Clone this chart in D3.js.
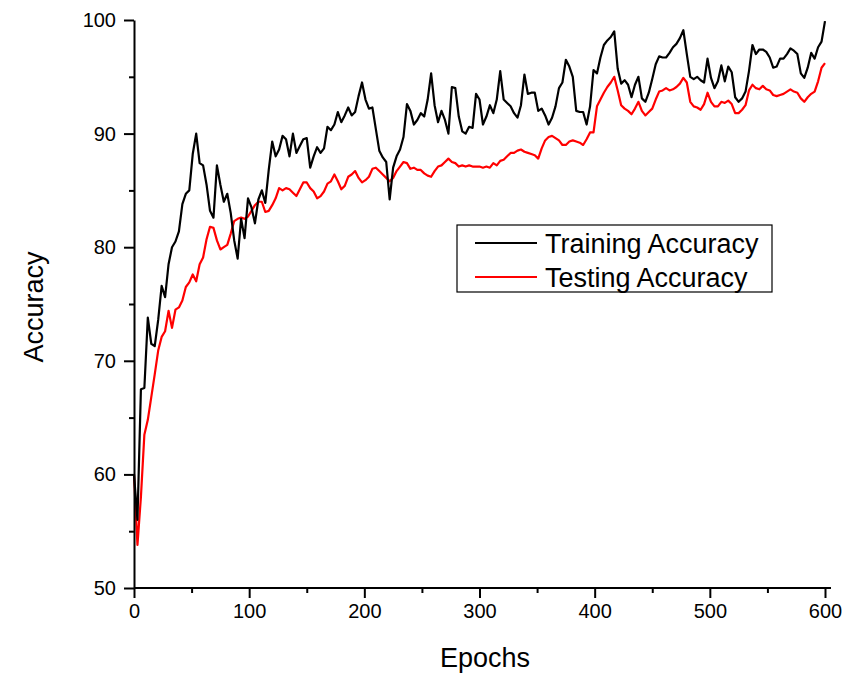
<!DOCTYPE html>
<html>
<head>
<meta charset="utf-8">
<script src="https://d3js.org/d3.v7.min.js"></script>
<style>
  body { margin: 0; background: #fff; }
  text { font-family: Arial, "Liberation Sans", sans-serif; fill: #000; }
</style>
</head>
<body>
<div id="chart"></div>
<script>
// one reading every 3 epochs
const step = 3;

const trainAcc = [
  60, 56, 67.5, 67.6, 73.8, 71.5, 71.3, 73.6, 76.6, 75.6,
  78.5, 80, 80.5, 81.4, 83.8, 84.7, 85, 88.2, 90, 87.4,
  87.2, 85.5, 83.2, 82.6, 87.2, 85.5, 84, 84.7, 83, 80.6,
  79, 82.5, 80.8, 84.3, 83.5, 82.1, 84.2, 85, 83.9, 86.8,
  89.3, 88, 88.6, 89.8, 89.5, 88, 90, 88.3, 88.9, 89.5,
  89.6, 87, 88, 88.8, 88.3, 88.7, 90.6, 90.3, 90.8, 91.9,
  91, 91.6, 92.3, 91.6, 91.9, 93.3, 94.5, 93, 92.2, 92.3,
  90.4, 88.5, 87.9, 87.5, 84.2, 87, 88, 88.6, 89.7, 92.6,
  92, 90.8, 91.2, 91.8, 91.5, 93, 95.3, 92.5, 91, 92,
  91.2, 90, 94.1, 94, 91.5, 90.2, 90, 90.6, 90.5, 93.5,
  93, 90.8, 91.5, 92.5, 91.8, 93, 95.5, 93, 92.7, 92.4,
  91.8, 91.4, 92.5, 95.2, 93.5, 93.6, 93.6, 92, 92.2, 91.6,
  90.8, 91.4, 92.4, 94, 94.5, 96.5, 95.9, 95, 92, 91.9,
  91.9, 90.8, 92.4, 95.6, 95.3, 96.7, 97.8, 98.2, 98.5, 99,
  95.7, 94.4, 94.7, 94.3, 93.2, 94.3, 95, 93.1, 92.8, 93.6,
  94.8, 96.1, 96.8, 96.7, 96.7, 97.1, 97.6, 97.9, 98.4, 99.1,
  97, 95, 94.8, 95, 94.7, 94.5, 96.6, 94.9, 94, 94.6,
  96, 94.6, 95.9, 95.4, 93.2, 92.8, 93.1, 93.7, 95.5, 97.8,
  97, 97.4, 97.4, 97.2, 96.7, 95.8, 95.9, 96.6, 96.6, 97,
  97.5, 97.3, 97, 95.3, 94.9, 95.8, 97.1, 96.6, 97.6, 98.1,
  99.9
];

const testAcc = [
  60, 53.8, 58, 63.5, 64.8, 66.8, 68.8, 70.9, 72.1, 72.6,
  74.4, 72.9, 74.5, 74.7, 75.3, 76.5, 76.9, 77.6, 77, 78.5,
  79.1, 80.7, 81.8, 81.7, 80.6, 79.8, 80, 80.2, 81.2, 82.3,
  82.5, 82.6, 82.5, 82.7, 83.2, 83.7, 84, 84, 83.1, 83.2,
  83.7, 84.3, 85.2, 85, 85.2, 85.1, 84.8, 84.5, 85.1, 85.7,
  85.7, 85.2, 84.9, 84.3, 84.5, 84.9, 85.6, 85.8, 86.4, 85.8,
  85.1, 85.4, 86.2, 86.4, 86.7, 86.1, 85.7, 85.9, 86.2, 86.9,
  87, 86.7, 86.4, 86.1, 85.8, 86.1, 86.7, 87.1, 87.5, 87.4,
  86.9, 87, 86.8, 86.8, 86.5, 86.3, 86.2, 86.7, 87.1, 87.2,
  87.5, 87.8, 87.5, 87.4, 87.1, 87.2, 87.1, 87.2, 87.1, 87.1,
  87.1, 87, 87.1, 87, 87.4, 87.2, 87.6, 87.7, 88, 88.3,
  88.3, 88.5, 88.6, 88.4, 88.3, 88.2, 88.1, 87.8, 88.7, 89.4,
  89.7, 89.8, 89.6, 89.4, 89, 89, 89.3, 89.4, 89.3, 89.2,
  89, 89.5, 90.1, 90.1, 92.4, 93, 93.6, 94.1, 94.5, 95,
  93.8, 92.5, 92.2, 92, 91.7, 92.2, 92.8, 92, 91.6, 91.9,
  92.2, 93, 93.7, 93.8, 94, 93.8, 93.9, 94.1, 94.4, 94.9,
  94.5, 92.8, 92.4, 92.3, 92.1, 92.6, 93.6, 92.8, 92.4, 92.4,
  92.8, 92.7, 92.9, 92.6, 91.8, 91.8, 92.1, 92.5, 93.8, 94.3,
  94, 93.9, 94.2, 93.9, 93.8, 93.4, 93.3, 93.4, 93.5, 93.7,
  93.9, 93.7, 93.6, 93.1, 92.8, 93.2, 93.5, 93.7, 94.6, 95.8,
  96.2
];

const epochs = trainAcc.map((d, i) => i * step);

const xTicks = [0, 100, 200, 300, 400, 500, 600];
const xMinor = [50, 150, 250, 350, 450, 550];
const yTicks = [50, 60, 70, 80, 90, 100];
const yMinor = [55, 65, 75, 85, 95];

const seriesNames = ["Training Accuracy", "Testing Accuracy"];
const seriesColors = ["#000000", "#ff0000"];

const width = 844, height = 677;

const svg = d3.select("#chart").append("svg")
    .attr("width", width)
    .attr("height", height)
    .style("background", "#fff");

const x = d3.scaleLinear().domain([0, 600]).range([134, 825]);
const y = d3.scaleLinear().domain([50, 100]).range([588, 20]);

// lines
const line = d3.line()
    .x((d, i) => x(epochs[i]))
    .y(d => y(d));

[testAcc, trainAcc].forEach((s, k) => {
  svg.append("path")
      .datum(s)
      .attr("fill", "none")
      .attr("stroke", k === 0 ? seriesColors[1] : seriesColors[0])
      .attr("stroke-width", 2.2)
      .attr("stroke-linejoin", "round")
      .attr("d", line);
});

// axes
const xAxis = svg.append("g").attr("transform", "translate(0,588)");
xAxis.call(d3.axisBottom(x).tickValues(xTicks).tickSize(10).tickPadding(6).tickSizeOuter(0));
xAxis.append("g").call(d3.axisBottom(x).tickValues(xMinor).tickSize(5).tickFormat("").tickSizeOuter(0))
    .select(".domain").remove();
xAxis.select(".domain").attr("d", "M134,0H831");

const yAxis = svg.append("g").attr("transform", "translate(134,0)");
yAxis.call(d3.axisLeft(y).tickValues(yTicks).tickSize(10).tickPadding(8).tickSizeOuter(0));
yAxis.append("g").call(d3.axisLeft(y).tickValues(yMinor).tickSize(5).tickFormat("").tickSizeOuter(0))
    .select(".domain").remove();

svg.selectAll(".domain, .tick line").attr("stroke", "#000").attr("stroke-width", 2);
svg.selectAll(".tick text").style("font-size", "20px").style("font-family", "Arial, 'Liberation Sans', sans-serif");

// axis titles
svg.append("text")
    .attr("x", 485).attr("y", 667)
    .attr("text-anchor", "middle")
    .style("font-size", "27px")
    .text("Epochs");

svg.append("text")
    .attr("transform", "translate(43,307) rotate(-90)")
    .attr("text-anchor", "middle")
    .style("font-size", "27px")
    .text("Accuracy");

// legend
const legend = svg.append("g");
legend.append("rect")
    .attr("x", 457).attr("y", 225)
    .attr("width", 315).attr("height", 67)
    .attr("fill", "#fff")
    .attr("stroke", "#000")
    .attr("stroke-width", 1.2);

seriesNames.forEach((name, i) => {
  const ly = 243 + i * 34;
  legend.append("line")
      .attr("x1", 475).attr("x2", 537)
      .attr("y1", ly).attr("y2", ly)
      .attr("stroke", seriesColors[i])
      .attr("stroke-width", 2.2);
  legend.append("text")
      .attr("x", 545).attr("y", ly + 10)
      .style("font-size", "27px")
      .text(name);
});
</script>
</body>
</html>
